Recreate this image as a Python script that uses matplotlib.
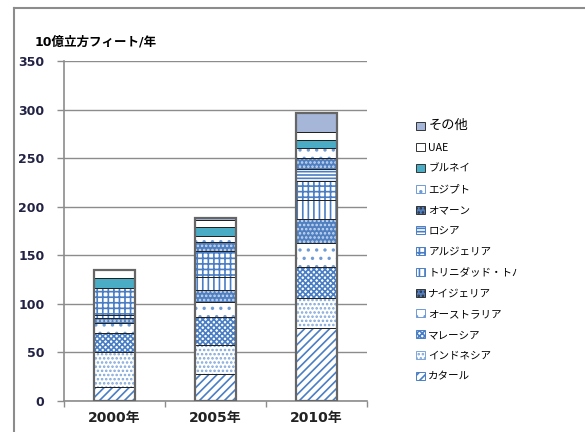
import numpy as np
import matplotlib
matplotlib.use("Agg")
import matplotlib.pyplot as plt
from matplotlib.patches import Patch
from matplotlib.lines import Line2D
from matplotlib.transforms import Bbox, TransformedBbox

plt.rcParams['font.family'] = ['Noto Sans CJK JP', 'DejaVu Sans']
plt.rcParams['hatch.linewidth'] = 1.2
num_font = ['DejaVu Sans', 'Noto Sans CJK JP']

# ── DATA ──────────────────────────────────────────────────────
years = ['2000年', '2005年', '2010年']
series = ['カタール', 'インドネシア', 'マレーシア', 'オーストラリア', 'ナイジェリア',
          'トリニダッド・トバゴ', 'アルジェリア', 'ロシア', 'オマーン', 'エジプト',
          'ブルネイ', 'UAE', 'その他']
qatar = [14, 27.5, 75.5]
indonesia = [36, 30, 31]
malaysia = [20, 29, 31]
australia = [10, 15, 25]
nigeria = [5.5, 12.5, 24.5]
trinidad = [3.5, 14, 20]
algeria = [27, 26, 19]
russia = [0, 0, 13]
oman = [0.5, 9.5, 11.5]
egypt = [0, 6, 10]
brunei = [10, 9.5, 8.5]
uae = [8, 7.5, 7.5]
other = [0.5, 1.5, 20]
values = [qatar, indonesia, malaysia, australia, nigeria, trinidad,
          algeria, russia, oman, egypt, brunei, uae, other]

# ── STYLES (face, hatch colour, hatch) ────────────────────────
blue = '#4A7EC4'
styles = [
    ('white', blue, '////'),
    ('white', '#7FA6DA', '....'),
    ('white', blue, 'xxxxxx'),
    ('white', '#6F9BD6', '..'),
    ('#4F7FC0', '#C9DAF0', '....'),
    ('white', blue, '|||'),
    ('white', blue, '+++'),
    ('white', blue, '-----'),
    ('#4F7FC0', '#C9DAF0', '....'),
    ('white', '#6F9BD6', '..'),
    ('#4BACC6', '#4BACC6', None),
    ('white', 'white', None),
    ('#A6B6D8', '#A6B6D8', None),
]

# ── PLOT ──────────────────────────────────────────────────────
fig = plt.figure(figsize=(5.85, 4.32), dpi=100)
ax = fig.add_axes([64 / 585, 31 / 432, 303 / 585, 340 / 432])

x = np.arange(len(years))
width = 0.41
bottom = np.zeros(len(years))
for vals, (face, hc, h) in zip(values, styles):
    vals = np.array(vals, dtype=float)
    ax.bar(x, vals, width, bottom=bottom, color=face, edgecolor=hc,
           hatch=h, linewidth=0, zorder=3)
    ax.bar(x, vals, width, bottom=bottom, fill=False,
           edgecolor='#222222', linewidth=0.7, zorder=4)
    bottom += vals
ax.bar(x, bottom, width, fill=False, edgecolor='#666666', linewidth=1.6, zorder=5)

ax.set_xlim(-0.5, 2.5)
ax.set_ylim(0, 350)
ax.set_yticks(np.arange(0, 351, 50))
ax.set_xticks(x)
ax.set_xticklabels(years, fontsize=10, fontweight='bold', color='#222222',
                   family=num_font)
ax.set_xticks([-0.5, 0.5, 1.5, 2.5], minor=True)
ax.tick_params(axis='x', which='major', length=0, pad=7)
ax.tick_params(axis='x', which='minor', length=4, color='#8c8c8c', width=1)
ax.tick_params(axis='y', length=5, color='#8c8c8c', width=1, pad=9)
for lab in ax.get_yticklabels():
    lab.set_fontweight('bold')
    lab.set_fontsize(9)
    lab.set_family(num_font)
    lab.set_color('#222244')
ax.grid(axis='y', color='#8c8c8c', linewidth=1, zorder=0)
for s in ['top', 'right']:
    ax.spines[s].set_visible(False)
for s in ['left', 'bottom']:
    ax.spines[s].set_color('#8c8c8c')
    ax.spines[s].set_linewidth(1.2)

fig.text(35 / 585, 1 - 42 / 432, '10億立方フィート/年', fontsize=9,
         fontweight='bold', va='center', ha='left', family=num_font)

# legend, reversed order like the original
handles = []
for (face, hc, h), name in zip(styles, series):
    if h is None:
        handles.append(Patch(facecolor=face, edgecolor='#333333', linewidth=0.7, label=name))
    else:
        handles.append(Patch(facecolor=face, edgecolor=hc if face == 'white' else '#333333',
                             hatch=h, linewidth=0.7, label=name))
leg = fig.legend(handles[::-1], series[::-1], loc='upper left',
                 bbox_to_anchor=(412 / 585, 1 - 115 / 432), frameon=False,
                 fontsize=7.6, handlelength=0.8, handleheight=0.8,
                 handletextpad=0.35, labelspacing=1.02, borderaxespad=0)
leg.get_texts()[0].set_fontsize(9.5)
clip = TransformedBbox(Bbox([[0, 0], [518 / 585, 1]]), fig.transFigure)
for t in leg.get_texts():
    t.set_clip_box(clip)
    t.set_clip_on(True)

# chart area border (left and top)
fig.add_artist(Line2D([14 / 585, 14 / 585], [0, 1 - 8 / 432], color='#8c8c8c', lw=1.5))
fig.add_artist(Line2D([14 / 585, 1], [1 - 8 / 432, 1 - 8 / 432], color='#8c8c8c', lw=1.5))

fig.savefig('out.png', dpi=100)
